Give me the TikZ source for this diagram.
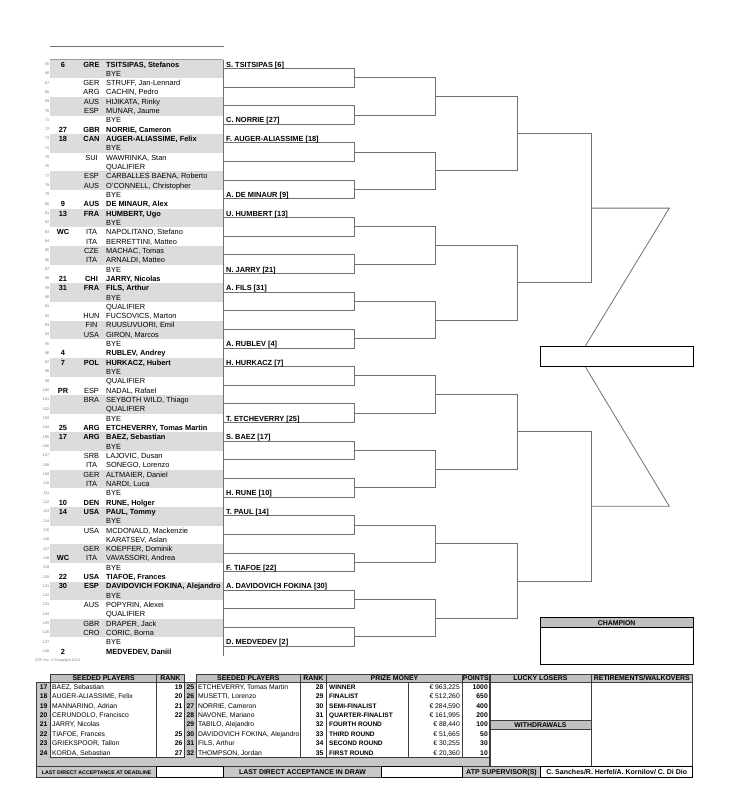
\documentclass[tikz,border=0pt]{standalone}
\usepackage{fontspec}
\setmainfont{Liberation Sans}
\definecolor{band}{HTML}{DCDCDC}
\definecolor{brk}{HTML}{707070}
\definecolor{hdr}{HTML}{C0C0C0}
\definecolor{outerg}{HTML}{C8C8C8}
\definecolor{edge}{HTML}{3C3C3C}
\definecolor{numc}{HTML}{7A7A7A}
\tikzset{
  rownum/.style={anchor=base east, inner sep=0pt, font=\fontsize{3.8}{4}\selectfont, text=numc},
  seedtxt/.style={anchor=base, inner sep=0pt, font=\fontsize{7.4}{8}\selectfont\bfseries},
  ctry/.style={anchor=base, inner sep=0pt, font=\fontsize{7.4}{8}\selectfont},
  pname/.style={anchor=base west, inner sep=0pt, font=\fontsize{7.4}{8}\selectfont},
  r2lab/.style={anchor=base west, inner sep=0pt, font=\fontsize{7.4}{8}\selectfont\bfseries},
  brline/.style={draw=brk, line width=0.8pt},
  hdrtxt/.style={anchor=base, inner sep=0pt, font=\fontsize{6.9}{7}\selectfont\bfseries},
  tbl/.style={inner sep=0pt, font=\fontsize{6.8}{7}\selectfont},
  tblb/.style={inner sep=0pt, font=\fontsize{6.8}{7}\selectfont\bfseries},
  cellbox/.style={draw=edge, line width=0.6pt},
  whitebox/.style={draw=black, line width=0.9pt, fill=white}
}
\newcommand\prow[5]{%
  \pgfmathsetmacro\yb{67.0+(#1-65)*9.32}%
  \node[rownum] (rn#1) at (49.5,{\yb-1.6}) {#1};%
  \if\relax\detokenize{#2}\relax\else\node[seedtxt] (sd#1) at (63,\yb) {#2};\fi
  \if\relax\detokenize{#3}\relax\else\node[ctry] (ct#1) at (91.5,\yb) {#5#3};\fi
  \node[pname] (nm#1) at (106,\yb) {#5#4};%
}
\begin{document}
\begin{tikzpicture}[x=1pt,y=-1pt]
\useasboundingbox (0,0) rectangle (738,800);
\fill[white] (0,0) rectangle (738,800);
% top rule
\draw[brk, line width=0.8pt] (50,46.3) -- (223.5,46.3);
% bands
\foreach \k in {0,...,15} \fill[band] (50,{59.64+\k*37.28}) rectangle (223,{59.64+\k*37.28+18.64});
\draw[brk!70, line width=0.6pt] (50,59.64) -- (223,59.64);
\draw[brline] (223,59.64) -- (223,656.4);
% players
\prow{65}{6}{GRE}{TSITSIPAS, Stefanos}{\bfseries}
\prow{66}{}{}{BYE}{}
\prow{67}{}{GER}{STRUFF, Jan-Lennard}{}
\prow{68}{}{ARG}{CACHIN, Pedro}{}
\prow{69}{}{AUS}{HIJIKATA, Rinky}{}
\prow{70}{}{ESP}{MUNAR, Jaume}{}
\prow{71}{}{}{BYE}{}
\prow{72}{27}{GBR}{NORRIE, Cameron}{\bfseries}
\prow{73}{18}{CAN}{AUGER-ALIASSIME, Felix}{\bfseries}
\prow{74}{}{}{BYE}{}
\prow{75}{}{SUI}{WAWRINKA, Stan}{}
\prow{76}{}{}{QUALIFIER}{}
\prow{77}{}{ESP}{CARBALLES BAENA, Roberto}{}
\prow{78}{}{AUS}{O'CONNELL, Christopher}{}
\prow{79}{}{}{BYE}{}
\prow{80}{9}{AUS}{DE MINAUR, Alex}{\bfseries}
\prow{81}{13}{FRA}{HUMBERT, Ugo}{\bfseries}
\prow{82}{}{}{BYE}{}
\prow{83}{WC}{ITA}{NAPOLITANO, Stefano}{}
\prow{84}{}{ITA}{BERRETTINI, Matteo}{}
\prow{85}{}{CZE}{MACHAC, Tomas}{}
\prow{86}{}{ITA}{ARNALDI, Matteo}{}
\prow{87}{}{}{BYE}{}
\prow{88}{21}{CHI}{JARRY, Nicolas}{\bfseries}
\prow{89}{31}{FRA}{FILS, Arthur}{\bfseries}
\prow{90}{}{}{BYE}{}
\prow{91}{}{}{QUALIFIER}{}
\prow{92}{}{HUN}{FUCSOVICS, Marton}{}
\prow{93}{}{FIN}{RUUSUVUORI, Emil}{}
\prow{94}{}{USA}{GIRON, Marcos}{}
\prow{95}{}{}{BYE}{}
\prow{96}{4}{}{RUBLEV, Andrey}{\bfseries}
\prow{97}{7}{POL}{HURKACZ, Hubert}{\bfseries}
\prow{98}{}{}{BYE}{}
\prow{99}{}{}{QUALIFIER}{}
\prow{100}{PR}{ESP}{NADAL, Rafael}{}
\prow{101}{}{BRA}{SEYBOTH WILD, Thiago}{}
\prow{102}{}{}{QUALIFIER}{}
\prow{103}{}{}{BYE}{}
\prow{104}{25}{ARG}{ETCHEVERRY, Tomas Martin}{\bfseries}
\prow{105}{17}{ARG}{BAEZ, Sebastian}{\bfseries}
\prow{106}{}{}{BYE}{}
\prow{107}{}{SRB}{LAJOVIC, Dusan}{}
\prow{108}{}{ITA}{SONEGO, Lorenzo}{}
\prow{109}{}{GER}{ALTMAIER, Daniel}{}
\prow{110}{}{ITA}{NARDI, Luca}{}
\prow{111}{}{}{BYE}{}
\prow{112}{10}{DEN}{RUNE, Holger}{\bfseries}
\prow{113}{14}{USA}{PAUL, Tommy}{\bfseries}
\prow{114}{}{}{BYE}{}
\prow{115}{}{USA}{MCDONALD, Mackenzie}{}
\prow{116}{}{}{KARATSEV, Aslan}{}
\prow{117}{}{GER}{KOEPFER, Dominik}{}
\prow{118}{WC}{ITA}{VAVASSORI, Andrea}{}
\prow{119}{}{}{BYE}{}
\prow{120}{22}{USA}{TIAFOE, Frances}{\bfseries}
\prow{121}{30}{ESP}{DAVIDOVICH FOKINA, Alejandro}{\bfseries}
\prow{122}{}{}{BYE}{}
\prow{123}{}{AUS}{POPYRIN, Alexei}{}
\prow{124}{}{}{QUALIFIER}{}
\prow{125}{}{GBR}{DRAPER, Jack}{}
\prow{126}{}{CRO}{CORIC, Borna}{}
\prow{127}{}{}{BYE}{}
\prow{128}{2}{}{MEDVEDEV, Daniil}{\bfseries}
% brackets
\foreach \i in {0,...,15}{
  \pgfmathsetmacro\ta{68.3+2*\i*18.64}
  \pgfmathsetmacro\tb{\ta+18.64}
  \draw[brline] (223,\ta) -| (354,\tb) -- (223,\tb);
}
\foreach \i in {0,...,7}{
  \pgfmathsetmacro\ta{68.3+(4*\i+0.5)*18.64}
  \pgfmathsetmacro\tb{\ta+2*18.64}
  \draw[brline] (354,\ta) -| (435.7,\tb) -- (354,\tb);
}
\foreach \i in {0,...,3}{
  \pgfmathsetmacro\ta{68.3+(8*\i+1.5)*18.64}
  \pgfmathsetmacro\tb{\ta+4*18.64}
  \draw[brline] (435.7,\ta) -| (517,\tb) -- (435.7,\tb);
}
\foreach \i in {0,1}{
  \pgfmathsetmacro\ta{68.3+(16*\i+3.5)*18.64}
  \pgfmathsetmacro\tb{\ta+8*18.64}
  \draw[brline] (517,\ta) -| (591.3,\tb) -- (517,\tb);
}
\coordinate (qa) at (591.3,208.1);
\coordinate (qb) at (591.3,506.3);
\coordinate (qa2) at (669.3,208.1);
\coordinate (qb2) at (669.3,506.3);
\coordinate (fa) at (585,346.5);
\coordinate (fb) at (585,366.3);
\draw[brline] (qa) -- (qa2) -- (fa);
\draw[brline] (qb) -- (qb2) -- (fb);
\draw[line width=1pt] (540.3,346.5) rectangle (693,366.3);
% round 2 labels
\foreach \j/\t in {0/{S. TSITSIPAS [6]},3/{C. NORRIE [27]},4/{F. AUGER-ALIASSIME [18]},7/{A. DE MINAUR [9]},8/{U. HUMBERT [13]},11/{N. JARRY [21]},12/{A. FILS [31]},15/{A. RUBLEV [4]},16/{H. HURKACZ [7]},19/{T. ETCHEVERRY [25]},20/{S. BAEZ [17]},23/{H. RUNE [10]},24/{T. PAUL [14]},27/{F. TIAFOE [22]},28/{A. DAVIDOVICH FOKINA [30]},31/{D. MEDVEDEV [2]}}{
  \pgfmathsetmacro\yy{68.3+\j*18.64-1.3}
  \node[r2lab] (w\j) at (226,\yy) {\t};
}
% champion
\fill[hdr] (540.3,617.7) rectangle (693,627);
\draw[line width=1pt] (540.3,627) -- (693,627);
\draw[line width=1pt] (540.3,617.7) rectangle (693,664.3);
\node[hdrtxt] (champ) at (616.65,625.2) {CHAMPION};
% copyright
\node[anchor=base west, inner sep=0pt, font=\fontsize{3.7}{4}\selectfont, text=numc] (copy) at (35,661.5) {ATP, Inc. © Copyright 2014};
% bottom tables
\fill[outerg] (36.7,682.3) rectangle (489.3,766.7);
\draw[cellbox] (36.7,682.3) rectangle (489.3,766.7);
\foreach \a/\b/\t [count=\n] in {50.7/156.7/SEEDED PLAYERS,156.7/184/RANK,196.7/300/SEEDED PLAYERS,300/326.7/RANK,326.7/462.3/PRIZE MONEY,462.3/489.3/POINTS,490/591/LUCKY LOSERS,591/692.7/{RETIREMENTS/WALKOVERS}}{
  \draw[cellbox, fill=hdr] (\a,674) rectangle (\b,682.3);
  \node[hdrtxt] (hd\n) at ({(\a+\b)/2},680.6) {\t};
}
\foreach \a/\b in {50.7/156.7,156.7/184,196.7/300,300/326.7,326.7/408.3,408.3/462.3,462.3/489.3}{
  \draw[cellbox, fill=white] (\a,682.3) rectangle (\b,757.3);
}
\draw[cellbox, fill=white] (490,682.3) rectangle (591,720);
\draw[cellbox, fill=hdr] (490,720) rectangle (591,729.3);
\node[hdrtxt] (wd) at (540.5,727.1) {WITHDRAWALS};
\draw[cellbox, fill=white] (490,729.3) rectangle (591,766.7);
\draw[cellbox, fill=white] (591,682.3) rectangle (692.7,766.7);
% table rows
\foreach \s/\nm [count=\n] in {17/{BAEZ, Sebastian},18/{AUGER-ALIASSIME, Felix},19/{MANNARINO, Adrian},20/{CERUNDOLO, Francisco},21/{JARRY, Nicolas},22/{TIAFOE, Frances},23/{GRIEKSPOOR, Tallon},24/{KORDA, Sebastian}}{
  \pgfmathsetmacro\yy{689.15+(\n-1)*9.45}
  \node[tblb, anchor=base] (sa\n) at (43.7,\yy) {\s};
  \node[tbl, anchor=base west] (na\n) at (52,\yy) {\nm};
}
\foreach \r/\v in {1/19,2/20,3/21,4/22,6/25,7/26,8/27}{
  \pgfmathsetmacro\yy{689.15+(\r-1)*9.45}
  \node[tblb, anchor=base east] (ra\r) at (182.7,\yy) {\v};
}
\foreach \s/\nm [count=\n] in {25/{ETCHEVERRY, Tomas Martin},26/{MUSETTI, Lorenzo},27/{NORRIE, Cameron},28/{NAVONE, Mariano},29/{TABILO, Alejandro},30/{DAVIDOVICH FOKINA, Alejandro},31/{FILS, Arthur},32/{THOMPSON, Jordan}}{
  \pgfmathsetmacro\yy{689.15+(\n-1)*9.45}
  \node[tblb, anchor=base] (sb\n) at (190.4,\yy) {\s};
  \node[tbl, anchor=base west] (nb\n) at (197.8,\yy) {\nm};
}
\foreach \v/\lab/\amt/\pts [count=\n] in {28/WINNER/{€ 963,225}/1000,29/FINALIST/{€ 512,260}/650,30/SEMI-FINALIST/{€ 284,590}/400,31/QUARTER-FINALIST/{€ 161,995}/200,32/FOURTH ROUND/{€ 88,440}/100,33/THIRD ROUND/{€ 51,665}/50,34/SECOND ROUND/{€ 30,255}/30,35/FIRST ROUND/{€ 20,360}/10}{
  \pgfmathsetmacro\yy{689.15+(\n-1)*9.45}
  \node[tblb, anchor=base east] (rb\n) at (323.6,\yy) {\v};
  \node[tblb, anchor=base west, font=\fontsize{6.5}{7}\selectfont\bfseries] (pl\n) at (329,\yy) {\lab};
  \node[tbl, anchor=base east] (pa\n) at (460,\yy) {\amt};
  \node[tblb, anchor=base east] (pp\n) at (488,\yy) {\pts};
}
% bottom row
\fill[outerg] (36.7,766.7) rectangle (540.7,777.3);
\draw[cellbox] (36.7,766.7) rectangle (540.7,777.3);
\draw[whitebox] (156.7,766.7) rectangle (223.3,777.3);
\draw[whitebox] (381.7,766.7) rectangle (462.3,777.3);
\draw[whitebox] (540.7,766.7) rectangle (692.7,777.3);
\node[anchor=base, inner sep=0pt, font=\fontsize{5.3}{6}\selectfont\bfseries] (ld1) at (96.7,774.1) {LAST DIRECT ACCEPTANCE AT DEADLINE};
\node[anchor=base, inner sep=0pt, font=\fontsize{6.9}{7}\selectfont\bfseries] (ld2) at (302.5,774.6) {LAST DIRECT ACCEPTANCE IN DRAW};
\node[anchor=base, inner sep=0pt, font=\fontsize{7}{7}\selectfont\bfseries] (sup) at (501.5,774.6) {ATP SUPERVISOR(S)};
\node[anchor=base, inner sep=0pt, font=\fontsize{7}{7}\selectfont\bfseries] (supn) at (616.7,774.6) {C. Sanches/R. Herfel/A. Kornilov/ C. Di Dio};
\end{tikzpicture}
\end{document}
